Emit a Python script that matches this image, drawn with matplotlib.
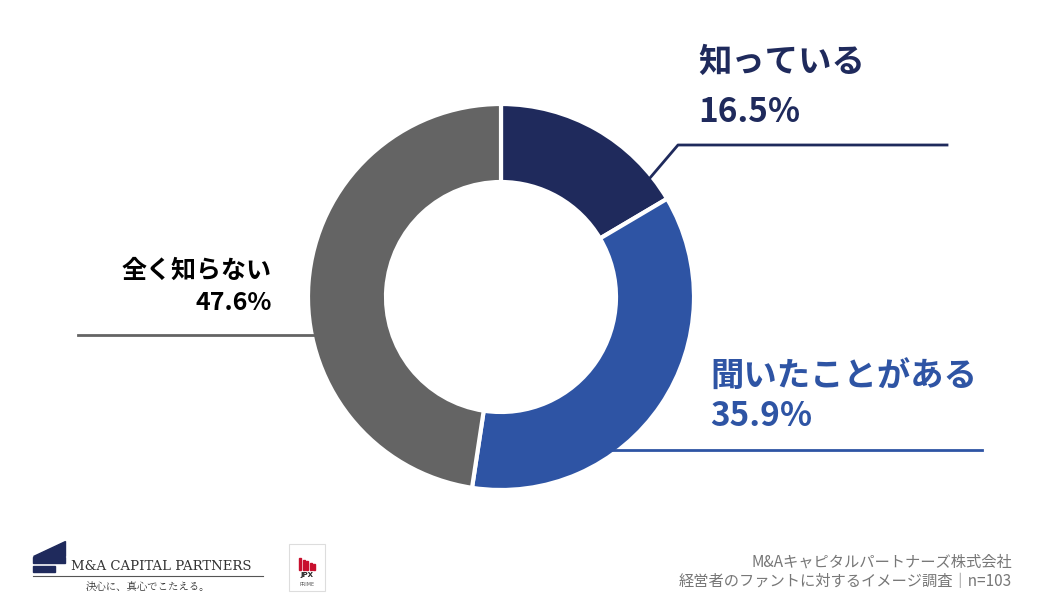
import matplotlib
matplotlib.use("Agg")
import matplotlib.pyplot as plt
from matplotlib.patches import Rectangle, Polygon

categories = ["知っている", "聞いたことがある", "全く知らない"]
values = [16.5, 35.9, 47.6]
colors = ["#1f2a5c", "#2e54a4", "#646464"]

fig = plt.figure(figsize=(10.4, 6.1), dpi=100)
ax = fig.add_axes([0, 0, 1, 1])
Y = lambda y: 610 - y

ax.pie(values, colors=colors, startangle=90, counterclock=False, center=(501, Y(297)),
       radius=193, wedgeprops=dict(width=78, edgecolor="white", linewidth=3), frame=True)
ax.set_xlim(0, 1040); ax.set_ylim(0, 610); ax.set_aspect("equal"); ax.axis("off")

jp = "Noto Sans CJK JP"
ax.plot([638, 678, 947], [Y(192), Y(145), Y(145)], color=colors[0], lw=2)
ax.plot([612, 982], [Y(450), Y(450)], color=colors[1], lw=2)
ax.plot([78, 315], [Y(335), Y(335)], color=colors[2], lw=2)

ax.text(698, Y(62), categories[0], fontfamily=jp, fontsize=24, fontweight="bold", color=colors[0], va="center")
ax.text(698, Y(112), f"{values[0]}%", fontfamily=jp, fontsize=24, fontweight="bold", color=colors[0], va="center")
ax.text(710, Y(377), categories[1], fontfamily=jp, fontsize=24, fontweight="bold", color=colors[1], va="center")
ax.text(710, Y(417), f"{values[1]}%", fontfamily=jp, fontsize=24, fontweight="bold", color=colors[1], va="center")
ax.text(272, Y(271), categories[2], fontfamily=jp, fontsize=18, fontweight="bold", color="black", va="center", ha="right")
ax.text(272, Y(303), f"{values[2]}%", fontfamily=jp, fontsize=18, fontweight="bold", color="black", va="center", ha="right")

ax.text(1012, Y(562), "M&Aキャピタルパートナーズ株式会社", fontfamily=jp, fontsize=11, color="#777777", ha="right", va="center")
ax.text(1012, Y(581), "経営者のファントに対するイメージ調査｜n=103", fontfamily=jp, fontsize=11, color="#777777", ha="right", va="center")

navy = "#1f2a5c"
ax.add_patch(Polygon([(33, Y(556)), (65, Y(556)), (65, Y(541))], closed=True, color=navy))
ax.add_patch(Rectangle((33, Y(563)), 32, 6, color=navy))
ax.add_patch(Rectangle((33, Y(572)), 22, 6, color=navy))
ax.text(71, Y(566), "M&A CAPITAL PARTNERS", fontfamily="DejaVu Serif", fontsize=9.5, color="#333333", va="center")
ax.plot([33, 263], [Y(576), Y(576)], color="#555555", lw=0.8)
ax.text(148, Y(587), "決心に、真心でこたえる。", fontfamily="Noto Serif CJK JP", fontsize=7.5, color="#333333", ha="center", va="center")
ax.add_patch(Rectangle((289, Y(591)), 36, 47, facecolor="white", edgecolor="#dddddd", lw=0.8))
for i in range(5):
    ax.add_patch(Rectangle((299 + i * 3.5, Y(570)), 2, 12 - i * 1.5, color="#c8102e"))
ax.text(307, Y(575), "JPX", fontsize=5, fontweight="bold", ha="center", va="center", color="#222222")
ax.text(307, Y(584), "PRIME", fontsize=3.5, ha="center", va="center", color="#555555")

fig.savefig("out.png", dpi=100)
